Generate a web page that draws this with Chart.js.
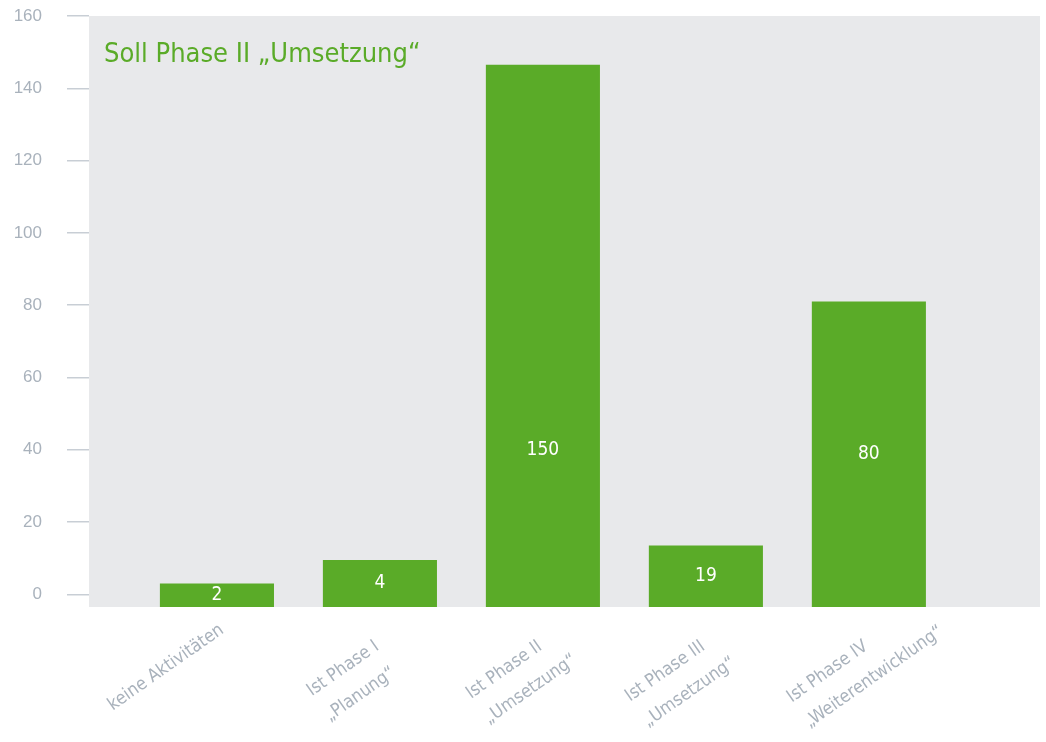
<!DOCTYPE html>
<html>
<head>
<meta charset="utf-8">
<script src="https://cdn.jsdelivr.net/npm/chart.js@4"></script>
<style>
  html, body { margin: 0; padding: 0; background: #fff; }
  #wrap { width: 1046px; height: 742px; }
</style>
</head>
<body>
<div id="wrap"><canvas id="myChart"></canvas></div>
<script>
// data
const chartTitle = "Soll Phase II \u201EUmsetzung\u201C";
const categories = [
  ["keine Aktivitäten"],
  ["Ist Phase I", "\u201EPlanung\u201C"],
  ["Ist Phase II", "\u201EUmsetzung\u201C"],
  ["Ist Phase III", "\u201EUmsetzung\u201C"],
  ["Ist Phase IV", "\u201EWeiterentwicklung\u201C"]
];
// bar heights as drawn, and the numbers printed on the bars
const barHeights = [3, 9.5, 146.5, 13.5, 81];
const valueLabels = ["2", "4", "150", "19", "80"];
const yTicks = [0, 20, 40, 60, 80, 100, 120, 140, 160];

// styles
const green = "#5aab28";
const panel = "#e8e9eb";
const grey = "#a9b2bc";
const narrow = '"DejaVu Sans Condensed", Roboto, sans-serif';
const yMin = -3.5, yMax = 160;
const xMin = -0.785, xMax = 5.05;
const labelAngle = 35;
const labelCap = 40;

//gray panel behind the plot + title
const panelBg = {
  id: "panelBg",
  beforeDraw(chart) {
    const {ctx, chartArea: a} = chart;
    ctx.save();
    ctx.fillStyle = panel;
    ctx.fillRect(a.left, a.top, a.right - a.left, a.bottom - a.top);
    ctx.font = "27px " + narrow;
    ctx.fillStyle = green;
    ctx.textBaseline = "alphabetic";
    ctx.fillText(chartTitle, a.left + 15, a.top + 46);
    ctx.restore();
  }
};

//numbers inside the bars
const barValues = {
  id: "barValues",
  afterDatasetsDraw(chart) {
    const {ctx} = chart;
    const ys = chart.scales.y;
    const meta = chart.getDatasetMeta(0);
    ctx.save();
    ctx.font = "19px " + narrow;
    ctx.fillStyle = "#ffffff";
    ctx.textAlign = "center";
    ctx.textBaseline = "middle";
    meta.data.forEach((bar, i) => {
      let y = (bar.y + bar.base) / 2;
      y = Math.max(y, ys.getPixelForValue(labelCap));
      ctx.fillText(valueLabels[i], bar.x, y);
    });
    ctx.restore();
  }
};

//rotated category labels under the panel
const catLabels = {
  id: "catLabels",
  afterDraw(chart) {
    const {ctx, chartArea: a} = chart;
    const xs = chart.scales.x;
    const ang = labelAngle * Math.PI / 180;
    ctx.save();
    ctx.font = "18px " + narrow;
    ctx.fillStyle = grey;
    ctx.textBaseline = "top";
    ctx.textAlign = "left";
    categories.forEach((lines, i) => {
      const px = xs.getPixelForValue(i);
      const extra = lines.length - 1;
      ctx.save();
      ctx.translate(px, a.bottom + 14);
      ctx.rotate(-ang);
      const w1 = ctx.measureText(lines[0]).width;
      lines.forEach((t, k) => {
        ctx.fillText(t, -w1 - extra * 16, k * 31 + extra * 9);
      });
      ctx.restore();
    });
    ctx.restore();
  }
};

new Chart("myChart", {
  type: "bar",
  data: {
    datasets: [{
      data: barHeights.map((v, i) => ({x: i, y: v})),
      backgroundColor: green,
      base: yMin,
      barPercentage: 0.7,
      categoryPercentage: 1
    }]
  },
  options: {
    responsive: true,
    maintainAspectRatio: false,
    animation: false,
    devicePixelRatio: 1,
    layout: {padding: {top: 16, right: 6, bottom: 135, left: 0}},
    plugins: {
      legend: {display: false},
      tooltip: {enabled: false}
    },
    scales: {
      x: {
        type: "linear",
        offset: false,
        min: xMin,
        max: xMax,
        afterBuildTicks: (s) => { s.ticks = categories.map((c, i) => ({value: i})); },
        afterFit: (s) => { s.height = 0; s.paddingLeft = 0; s.paddingRight = 0; },
        grid: {display: false, offset: false},
        border: {display: false},
        ticks: {display: false}
      },
      y: {
        min: yMin,
        max: yMax,
        afterBuildTicks: (s) => { s.ticks = yTicks.map(v => ({value: v})); },
        afterFit: (s) => { s.width = 89; s.paddingTop = 0; s.paddingBottom = 0; },
        border: {display: false},
        grid: {
          drawOnChartArea: false,
          tickLength: 22,
          tickColor: "#c8ced5",
          lineWidth: 1.5
        },
        ticks: {
          padding: 25,
          color: grey,
          font: {family: "Liberation Sans", size: 17}
        }
      }
    }
  },
  plugins: [panelBg, barValues, catLabels]
});
</script>
</body>
</html>
